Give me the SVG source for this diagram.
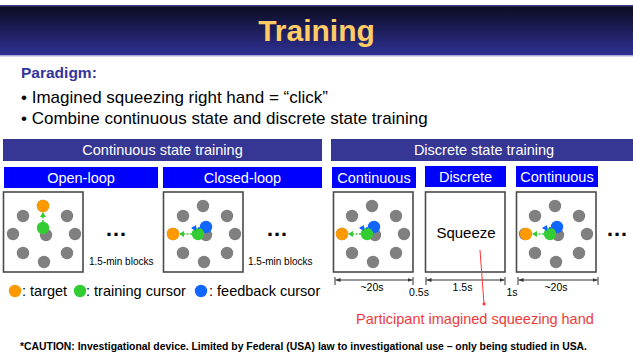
<svg xmlns="http://www.w3.org/2000/svg" xmlns:xlink="http://www.w3.org/1999/xlink" width="633" height="352" viewBox="0 0 633 352">
<style>
text{font-family:"Liberation Sans",Arial,sans-serif}
.hdr{fill:#0000ff}
.bar{fill:#363694}
.wt{fill:#ffffff;font-size:14.5px;text-anchor:middle}
.box{fill:#ffffff;stroke:#4a4a4a;stroke-width:1.6}
.g{fill:#808080}
.or{fill:#ff9900}
.gr{fill:#33cc33}
.bl{fill:#1166ff}
.dots{font-size:22px;font-weight:bold;fill:#000}
.small{font-size:10px;fill:#000}
.tl{font-size:10.5px;fill:#000;text-anchor:middle}
.leg{font-size:14.5px;fill:#000}
.garr{stroke:#33cc33;stroke-width:1.6;stroke-dasharray:2 1.5;fill:none}
.barr{stroke:#1166ff;stroke-width:1.6;stroke-dasharray:2 1.5;fill:none}
.dim{stroke:#333;stroke-width:1;fill:none}
</style>
<defs>
<linearGradient id="tg" x1="0" y1="0" x2="0" y2="1">
<stop offset="0" stop-color="#0b0b1e"/>
<stop offset="1" stop-color="#2f3196"/>
</linearGradient>
<g id="ring">
<circle class="g" cx="-1" cy="-28" r="6.2"/>
<circle class="g" cx="-21" cy="-18" r="6.2"/>
<circle class="g" cx="23" cy="-18" r="6.2"/>
<circle class="g" cx="-31" cy="0" r="6.2"/>
<circle class="g" cx="31" cy="0" r="6.2"/>
<circle class="g" cx="2" cy="1" r="6.2"/>
<circle class="g" cx="-21" cy="19" r="6.2"/>
<circle class="g" cx="23" cy="19" r="6.2"/>
<circle class="g" cx="0" cy="28" r="6.2"/>
</g>
<marker id="ag" markerWidth="6" markerHeight="6" refX="4" refY="3" orient="auto" markerUnits="userSpaceOnUse">
<path d="M0,0 L5,3 L0,6 z" fill="#33cc33"/>
</marker>
<marker id="ab" markerWidth="6" markerHeight="6" refX="4" refY="3" orient="auto" markerUnits="userSpaceOnUse">
<path d="M0,0 L5,3 L0,6 z" fill="#1166ff"/>
</marker>
<marker id="ak" markerWidth="6" markerHeight="6" refX="5" refY="3" orient="auto" markerUnits="userSpaceOnUse">
<path d="M0,1 L5,3 L0,5 z" fill="#333"/>
</marker>
<marker id="ar" markerWidth="4" markerHeight="4" refX="2" refY="2" orient="auto" markerUnits="userSpaceOnUse">
<circle cx="2" cy="2" r="1.5" fill="#ff3333"/>
</marker>
</defs>

<g id="title">
<rect x="0" y="5" width="633" height="51" fill="url(#tg)"/>
<rect x="0" y="5" width="633" height="1.5" fill="#3a3a88"/>
<rect x="0" y="55" width="633" height="1.5" fill="#a9a9d8"/>
<text x="316.5" y="41" text-anchor="middle" font-size="30" font-weight="bold" fill="#ffcc66">Training</text>
</g>

<g id="paradigm">
<text x="21" y="78" font-size="15.5" font-weight="bold" fill="#333399">Paradigm:</text>
<text x="21" y="103" font-size="17" fill="#000">• Imagined squeezing right hand = “click”</text>
<text x="21" y="124" font-size="17" fill="#000">• Combine continuous state and discrete state training</text>
</g>

<g id="continuous-state">
<rect class="bar" x="3" y="139" width="319" height="22"/>
<text class="wt" x="162.5" y="155">Continuous state training</text>
</g>

<g id="discrete-state">
<rect class="bar" x="331" y="139" width="302" height="22"/>
<text class="wt" x="484" y="155">Discrete state training</text>
</g>

<g id="open-loop">
<rect class="hdr" x="4" y="167" width="154" height="21"/>
<text class="wt" x="81" y="182.5">Open-loop</text>
<rect class="box" x="3.5" y="192" width="79.5" height="80"/>
<use xlink:href="#ring" href="#ring" x="44" y="234"/>
<circle class="or" cx="43" cy="206" r="6.2"/>
<circle class="gr" cx="43" cy="228" r="6.2"/>
<line class="garr" x1="43" y1="222" x2="43" y2="213" marker-end="url(#ag)"/>
<text class="dots" x="105" y="236">…</text>
<text class="small" x="89" y="265">1.5-min blocks</text>
</g>

<g id="closed-loop">
<rect class="hdr" x="163" y="167" width="159" height="21"/>
<text class="wt" x="242.5" y="182.5">Closed-loop</text>
<rect class="box" x="163.5" y="192" width="79.5" height="80"/>
<use xlink:href="#ring" href="#ring" x="204" y="234"/>
<circle class="or" cx="173" cy="234" r="6.2"/>
<circle class="bl" cx="206" cy="227" r="6.2"/>
<circle class="gr" cx="198" cy="234" r="6.2"/>
<line class="garr" x1="192" y1="234" x2="180" y2="234" marker-end="url(#ag)"/>
<line class="barr" x1="200" y1="228" x2="192" y2="228" marker-end="url(#ab)"/>
<text class="dots" x="266" y="236">…</text>
<text class="small" x="248" y="265">1.5-min blocks</text>
</g>

<g id="legend">
<circle class="or" cx="15" cy="291" r="6.2"/>
<text class="leg" x="22" y="296">: target</text>
<circle class="gr" cx="80" cy="291" r="6.2"/>
<text class="leg" x="86" y="296">: training cursor</text>
<circle class="bl" cx="201" cy="291" r="6.2"/>
<text class="leg" x="209" y="296">: feedback cursor</text>
</g>

<g id="continuous-1">
<rect class="hdr" x="332" y="167" width="84" height="21"/>
<text class="wt" x="374" y="182.5">Continuous</text>
<rect class="box" x="333.5" y="192" width="79.5" height="80"/>
<use xlink:href="#ring" href="#ring" x="373" y="234"/>
<circle class="or" cx="342" cy="234" r="6.2"/>
<circle class="bl" cx="374" cy="227" r="6.2"/>
<circle class="gr" cx="367" cy="234" r="6.2"/>
<line class="garr" x1="361" y1="234" x2="349" y2="234" marker-end="url(#ag)"/>
<line class="barr" x1="368" y1="228" x2="360" y2="228" marker-end="url(#ab)"/>
</g>

<g id="discrete">
<rect class="hdr" x="425" y="166" width="81" height="21"/>
<text class="wt" x="465.5" y="181.5">Discrete</text>
<rect class="box" x="425.5" y="192" width="79.5" height="80"/>
<text x="466" y="238" font-size="15" text-anchor="middle" fill="#000">Squeeze</text>
</g>

<g id="continuous-2">
<rect class="hdr" x="516" y="166" width="82" height="21"/>
<text class="wt" x="557" y="181.5">Continuous</text>
<rect class="box" x="516.5" y="192" width="79.5" height="80"/>
<use xlink:href="#ring" href="#ring" x="556" y="234"/>
<circle class="or" cx="526" cy="234" r="6.2"/>
<circle class="bl" cx="557" cy="227" r="6.2"/>
<circle class="gr" cx="550" cy="234" r="6.2"/>
<line class="garr" x1="544" y1="234" x2="533" y2="234" marker-end="url(#ag)"/>
<line class="barr" x1="551" y1="228" x2="543" y2="228" marker-end="url(#ab)"/>
<text class="dots" x="606" y="236">…</text>
</g>

<g id="connectors">
<path class="dim" d="M335,277 V285 M413,277 V285 M426,277 V285 M505,277 V285 M518,277 V285 M598,277 V285"/>
<line class="dim" x1="374" y1="280" x2="335.5" y2="280" marker-end="url(#ak)"/>
<line class="dim" x1="374" y1="280" x2="412.5" y2="280" marker-end="url(#ak)"/>
<line class="dim" x1="465" y1="280" x2="426.5" y2="280" marker-end="url(#ak)"/>
<line class="dim" x1="465" y1="280" x2="504.5" y2="280" marker-end="url(#ak)"/>
<line class="dim" x1="558" y1="280" x2="518.5" y2="280" marker-end="url(#ak)"/>
<line class="dim" x1="558" y1="280" x2="597.5" y2="280" marker-end="url(#ak)"/>
<line x1="480" y1="250" x2="484" y2="304" stroke="#ff3333" stroke-width="1" marker-end="url(#ar)"/>
</g>

<g id="timeline-labels">
<text class="tl" x="372" y="291">~20s</text>
<text class="tl" x="419" y="296">0.5s</text>
<text class="tl" x="462.5" y="291">1.5s</text>
<text class="tl" x="512" y="296">1s</text>
<text class="tl" x="556" y="291">~20s</text>
</g>

<g id="annotation">
<text x="356" y="324" font-size="14.5" fill="#f03a3a">Participant imagined squeezing hand</text>
</g>

<g id="caution">
<text x="20" y="349.5" font-size="10.4" font-weight="bold" fill="#000">*CAUTION:  Investigational device. Limited by Federal (USA) law to investigational use – only being studied in USA.</text>
</g>
</svg>
